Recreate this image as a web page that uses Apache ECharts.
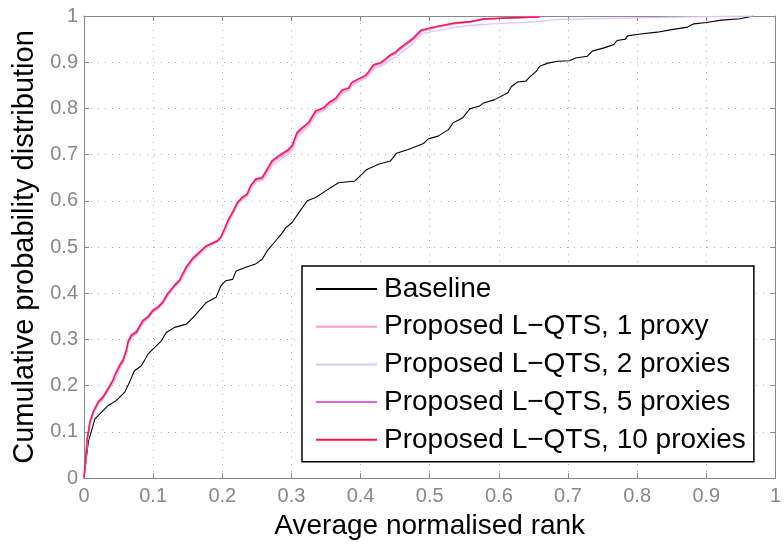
<!DOCTYPE html>
<html>
<head>
<meta charset="utf-8">
<script type="text/javascript" src="https://cdn.jsdelivr.net/npm/echarts@6/dist/echarts.min.js"></script>
<style type="text/css">
  html, body { margin: 0; padding: 0; background: #fff; }
  #main { width: 784px; height: 545px; }
</style>
</head>
<body>
<div id="main"></div>
<script type="text/javascript">
// names of the curves, in legend order
var seriesNames = ['Baseline', 'Proposed L\u2212QTS, 1 proxy', 'Proposed L\u2212QTS, 2 proxies',
  'Proposed L\u2212QTS, 5 proxies', 'Proposed L\u2212QTS, 10 proxies'];
var xTicks = [0, 0.1, 0.2, 0.3, 0.4, 0.5, 0.6, 0.7, 0.8, 0.9, 1];
var yTicks = [0, 0.1, 0.2, 0.3, 0.4, 0.5, 0.6, 0.7, 0.8, 0.9, 1];

// [average normalised rank, cumulative probability]
var baseline = [
  [0, 0], [0.0014, 0.003], [0.0062, 0.078], [0.0158, 0.128], [0.023, 0.139], [0.035, 0.157],
  [0.047, 0.168], [0.059, 0.186], [0.066, 0.208], [0.073, 0.232], [0.083, 0.243], [0.0925, 0.268],
  [0.0997, 0.279], [0.112, 0.297], [0.119, 0.315], [0.131, 0.326], [0.148, 0.333], [0.160, 0.351],
  [0.177, 0.380], [0.191, 0.391], [0.198, 0.416], [0.205, 0.427], [0.215, 0.430], [0.220, 0.448],
  [0.234, 0.456], [0.248, 0.463], [0.258, 0.474], [0.265, 0.492], [0.277, 0.513], [0.287, 0.531],
  [0.292, 0.542], [0.301, 0.553], [0.311, 0.575], [0.323, 0.600], [0.335, 0.607], [0.349, 0.621],
  [0.368, 0.639], [0.392, 0.643], [0.409, 0.668], [0.426, 0.679], [0.443, 0.686], [0.452, 0.703],
  [0.469, 0.711], [0.491, 0.724], [0.498, 0.734], [0.512, 0.740], [0.527, 0.754], [0.534, 0.769],
  [0.548, 0.780], [0.558, 0.799], [0.572, 0.805], [0.577, 0.811], [0.594, 0.819], [0.613, 0.834],
  [0.618, 0.847], [0.627, 0.857], [0.639, 0.859], [0.646, 0.870], [0.654, 0.880], [0.659, 0.891],
  [0.671, 0.898], [0.685, 0.902], [0.702, 0.903], [0.711, 0.909], [0.728, 0.913], [0.735, 0.924],
  [0.752, 0.931], [0.766, 0.938], [0.771, 0.947], [0.783, 0.950], [0.786, 0.957], [0.805, 0.961],
  [0.829, 0.965], [0.848, 0.970], [0.873, 0.976], [0.882, 0.983], [0.900, 0.986], [0.922, 0.991],
  [0.949, 0.994], [0.968, 1.0]
];
var proxy1 = [
  [0, 0], [0.0014, 0.003], [0.005, 0.082], [0.009, 0.118], [0.014, 0.140], [0.021, 0.160],
  [0.028, 0.172], [0.035, 0.189], [0.043, 0.207], [0.046, 0.218], [0.052, 0.238], [0.057, 0.250],
  [0.062, 0.272], [0.064, 0.290], [0.069, 0.304], [0.076, 0.312], [0.086, 0.336], [0.093, 0.345],
  [0.100, 0.359], [0.107, 0.366], [0.114, 0.377], [0.122, 0.395], [0.131, 0.413], [0.139, 0.424],
  [0.149, 0.452], [0.158, 0.471], [0.165, 0.481], [0.178, 0.499], [0.193, 0.511], [0.199, 0.519],
  [0.204, 0.535], [0.209, 0.553], [0.216, 0.572], [0.223, 0.593], [0.230, 0.604], [0.237, 0.611],
  [0.242, 0.629], [0.249, 0.643], [0.259, 0.647], [0.266, 0.665], [0.273, 0.683], [0.283, 0.694],
  [0.295, 0.705], [0.302, 0.715], [0.309, 0.744], [0.317, 0.755], [0.326, 0.766], [0.336, 0.791],
  [0.348, 0.798], [0.355, 0.809], [0.365, 0.818], [0.374, 0.836], [0.384, 0.841], [0.388, 0.852],
  [0.398, 0.861], [0.408, 0.868], [0.413, 0.877], [0.420, 0.892], [0.429, 0.895], [0.437, 0.904],
  [0.444, 0.913], [0.451, 0.918], [0.458, 0.928], [0.468, 0.939], [0.477, 0.949], [0.482, 0.957],
  [0.489, 0.967], [0.512, 0.976], [0.536, 0.983], [0.560, 0.987], [0.579, 0.993], [0.603, 0.995],
  [0.659, 0.998]
];
var proxy2 = [
  [0, 0], [0.0014, 0.003], [0.005, 0.080], [0.009, 0.117], [0.014, 0.139], [0.021, 0.160],
  [0.028, 0.171], [0.035, 0.190], [0.043, 0.208], [0.046, 0.219], [0.052, 0.240], [0.057, 0.251],
  [0.062, 0.273], [0.064, 0.291], [0.069, 0.305], [0.076, 0.313], [0.086, 0.338], [0.093, 0.346],
  [0.100, 0.360], [0.107, 0.367], [0.114, 0.378], [0.122, 0.396], [0.132, 0.414], [0.139, 0.425],
  [0.149, 0.454], [0.158, 0.472], [0.165, 0.482], [0.178, 0.500], [0.193, 0.511], [0.199, 0.519],
  [0.204, 0.536], [0.209, 0.554], [0.216, 0.573], [0.223, 0.594], [0.230, 0.605], [0.237, 0.612],
  [0.242, 0.628], [0.249, 0.641], [0.259, 0.645], [0.266, 0.661], [0.273, 0.678], [0.283, 0.688],
  [0.295, 0.700], [0.302, 0.711], [0.309, 0.738], [0.317, 0.750], [0.326, 0.762], [0.336, 0.788],
  [0.348, 0.796], [0.355, 0.806], [0.365, 0.815], [0.374, 0.833], [0.384, 0.839], [0.388, 0.850],
  [0.398, 0.858], [0.408, 0.866], [0.413, 0.874], [0.420, 0.888], [0.429, 0.891], [0.437, 0.898],
  [0.444, 0.906], [0.451, 0.911], [0.458, 0.920], [0.468, 0.931], [0.477, 0.942], [0.482, 0.952],
  [0.489, 0.962], [0.512, 0.969], [0.536, 0.975], [0.560, 0.980], [0.603, 0.984], [0.659, 0.988],
  [0.680, 0.992], [0.760, 0.995], [0.880, 0.998], [0.968, 1.0]
];
var proxy5 = [
  [0, 0], [0.0014, 0.003], [0.0047, 0.085], [0.0086, 0.122], [0.0134, 0.144], [0.0206, 0.166],
  [0.0278, 0.177], [0.035, 0.195], [0.042, 0.213], [0.0446, 0.224], [0.0518, 0.246], [0.0565, 0.257],
  [0.0614, 0.279], [0.0637, 0.297], [0.0686, 0.311], [0.0758, 0.318], [0.0853, 0.342], [0.0925, 0.350],
  [0.0997, 0.364], [0.107, 0.371], [0.114, 0.382], [0.121, 0.400], [0.131, 0.418], [0.138, 0.429],
  [0.148, 0.458], [0.157, 0.476], [0.164, 0.486], [0.177, 0.503], [0.193, 0.514], [0.198, 0.522],
  [0.203, 0.539], [0.208, 0.557], [0.215, 0.576], [0.222, 0.597], [0.229, 0.608], [0.236, 0.615],
  [0.241, 0.633], [0.248, 0.647], [0.258, 0.651], [0.265, 0.669], [0.272, 0.687], [0.282, 0.699],
  [0.294, 0.710], [0.301, 0.720], [0.308, 0.748], [0.316, 0.759], [0.325, 0.770], [0.335, 0.795],
  [0.347, 0.802], [0.354, 0.813], [0.364, 0.822], [0.373, 0.840], [0.383, 0.845], [0.387, 0.856],
  [0.397, 0.864], [0.407, 0.871], [0.412, 0.880], [0.419, 0.894], [0.428, 0.898], [0.436, 0.906],
  [0.443, 0.915], [0.450, 0.920], [0.457, 0.929], [0.467, 0.940], [0.476, 0.950], [0.481, 0.958],
  [0.488, 0.968], [0.512, 0.977], [0.536, 0.984], [0.560, 0.988], [0.579, 0.993], [0.603, 0.995],
  [0.659, 0.998]
];
var proxy10 = [
  [0, 0], [0.0014, 0.003], [0.0047, 0.085], [0.0086, 0.121], [0.0134, 0.143], [0.0206, 0.164],
  [0.0278, 0.175], [0.035, 0.193], [0.042, 0.211], [0.0446, 0.222], [0.0518, 0.243], [0.0565, 0.254],
  [0.0614, 0.276], [0.0637, 0.294], [0.0686, 0.308], [0.0758, 0.315], [0.0853, 0.340], [0.0925, 0.348],
  [0.0997, 0.362], [0.107, 0.369], [0.114, 0.380], [0.121, 0.398], [0.131, 0.416], [0.138, 0.427],
  [0.148, 0.456], [0.157, 0.474], [0.164, 0.484], [0.177, 0.502], [0.193, 0.513], [0.198, 0.521],
  [0.203, 0.538], [0.208, 0.556], [0.215, 0.575], [0.222, 0.596], [0.229, 0.607], [0.236, 0.614],
  [0.241, 0.632], [0.248, 0.646], [0.258, 0.650], [0.265, 0.668], [0.272, 0.686], [0.282, 0.697],
  [0.294, 0.708], [0.301, 0.718], [0.308, 0.747], [0.316, 0.758], [0.325, 0.769], [0.335, 0.794],
  [0.347, 0.801], [0.354, 0.812], [0.364, 0.821], [0.373, 0.839], [0.383, 0.844], [0.387, 0.855],
  [0.397, 0.864], [0.407, 0.871], [0.412, 0.880], [0.419, 0.895], [0.428, 0.898], [0.436, 0.907],
  [0.443, 0.916], [0.450, 0.921], [0.457, 0.931], [0.467, 0.942], [0.476, 0.952], [0.481, 0.960],
  [0.488, 0.970], [0.512, 0.978], [0.536, 0.985], [0.560, 0.988], [0.579, 0.994], [0.603, 0.995],
  [0.659, 0.998]
];
var seriesData = [baseline, proxy1, proxy2, proxy5, proxy10];
var colors = ['#000000', '#ff99cc', '#dcc4ff', '#d966e0', '#ff1444'];
var widths = [1.1, 1.3, 1.3, 1.5, 1.4];

var myChart = echarts.init(document.getElementById('main'));

function tickLabel(v) {
  return String(Math.round(v * 10) / 10);
}

var baseAxisX = {
  type: 'value', min: xTicks[0], max: xTicks[xTicks.length - 1], interval: 0.1,
  axisLine: { show: true, onZero: false, lineStyle: { color: '#888888', width: 1 } },
  axisTick: { show: true, inside: true, length: 5, lineStyle: { color: '#888888' } }
};
var baseAxisY = {
  type: 'value', min: yTicks[0], max: yTicks[yTicks.length - 1], interval: 0.1,
  axisLine: { show: true, onZero: false, lineStyle: { color: '#888888', width: 1 } },
  axisTick: { show: true, inside: true, length: 5, lineStyle: { color: '#888888' } }
};

var option = {
  animation: false,
  backgroundColor: '#ffffff',
  color: colors,
  grid: { left: 84, right: 5, top: 16, bottom: 66, containLabel: false },
  legend: {
    data: seriesNames,
    orient: 'vertical',
    left: 302, top: 266,
    padding: [9, 8, 8, 14],
    icon: 'rect',
    itemWidth: 61, itemHeight: 2, itemGap: 9.7,
    backgroundColor: '#ffffff',
    borderColor: '#000000', borderWidth: 1.5, borderRadius: 0,
    textStyle: { fontFamily: 'Liberation Sans', fontSize: 28, color: '#000000', lineHeight: 28, padding: [0, 0, 0, 2] }
  },
  xAxis: [
    Object.assign({}, baseAxisX, {
      position: 'bottom',
      name: 'Average normalised rank',
      nameLocation: 'middle', nameGap: 34,
      nameTextStyle: { fontFamily: 'Liberation Sans', fontSize: 28, color: '#000000' },
      axisLabel: { formatter: tickLabel, fontFamily: 'Liberation Sans', fontSize: 20, color: '#888888', margin: 8 },
      splitLine: { show: true, lineStyle: { color: '#aaaaaa', type: [1, 6], width: 1 } }
    }),
    Object.assign({}, baseAxisX, {
      position: 'top',
      axisLabel: { show: false },
      splitLine: { show: false }
    })
  ],
  yAxis: [
    Object.assign({}, baseAxisY, {
      position: 'left',
      name: 'Cumulative probability distribution',
      nameLocation: 'middle', nameGap: 43,
      nameTextStyle: { fontFamily: 'Liberation Sans', fontSize: 29, color: '#000000' },
      axisLabel: { formatter: tickLabel, fontFamily: 'Liberation Sans', fontSize: 20, color: '#888888', margin: 6 },
      splitLine: { show: true, lineStyle: { color: '#aaaaaa', type: [1, 6], width: 1 } }
    }),
    Object.assign({}, baseAxisY, {
      position: 'right',
      axisLabel: { show: false },
      splitLine: { show: false }
    })
  ],
  series: seriesNames.map(function (name, i) {
    return {
      name: name,
      type: 'line',
      data: seriesData[i],
      symbol: 'none',
      showSymbol: false,
      clip: true,
      lineStyle: { color: colors[i], width: widths[i] },
      itemStyle: { color: colors[i] },
      z: 2 + i
    };
  })
};

myChart.setOption(option);
</script>
</body>
</html>
